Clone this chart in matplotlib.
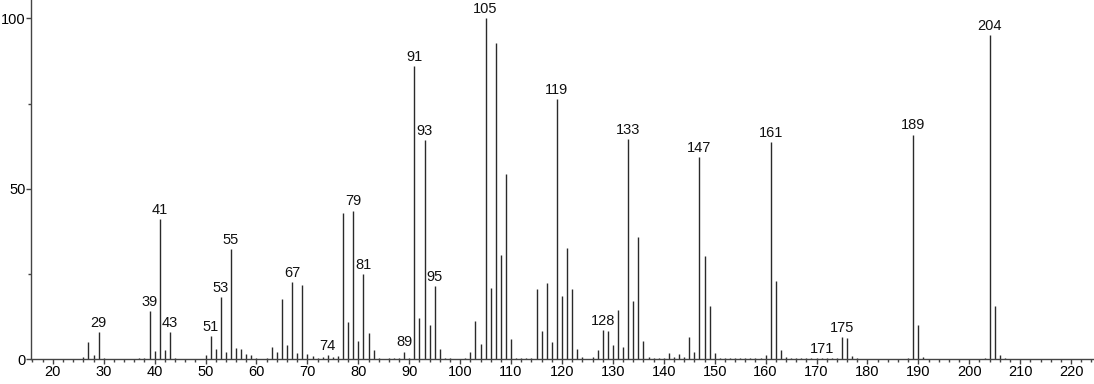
import numpy as np
import matplotlib
matplotlib.use("Agg")
import matplotlib.pyplot as plt
from matplotlib.ticker import MultipleLocator

plt.rcParams['font.family'] = ['Liberation Sans', 'DejaVu Sans']

# Spectre de masse : m/z et intensité relative
mz = [26, 27, 28, 29, 30, 37, 38, 39, 40, 41, 42, 43, 44,
      50, 51, 52, 53, 54, 55, 56, 57, 58, 59, 60, 62, 63, 64,
      65, 66, 67, 68, 69, 70, 71, 72, 73, 74, 75, 76, 77, 78,
      79, 80, 81, 82, 83, 84, 86, 87, 88, 89, 90, 91, 92, 93,
      94, 95, 96, 97, 98, 101, 102, 103, 104, 105, 106, 107, 108,
      109, 110, 111, 112, 113, 114, 115, 116, 117, 118, 119, 120,
      121, 122, 123, 124, 126, 127, 128, 129, 130, 131, 132, 133,
      134, 135, 136, 137, 138, 139, 140, 141, 142, 143, 144, 145,
      146, 147, 148, 149, 150, 151, 152, 153, 154, 155, 156, 157,
      158, 159, 160, 161, 162, 163, 164, 165, 166, 167, 168, 169,
      170, 171, 172, 173, 174, 175, 176, 177, 178, 188, 189, 190,
      191, 203, 204, 205, 206, 207]
intensite = [0.5, 4.9, 1.2, 7.8, 0.4, 0.3, 0.3, 14.2, 2.4, 41.2, 2.7, 7.8, 0.4,
             1.2, 6.8, 3.0, 18.1, 2.2, 32.4, 3.2, 3.0, 1.5, 1.3, 0.2, 0.4, 3.5, 2.2,
             17.7, 4.0, 22.7, 1.8, 21.6, 1.5, 0.8, 0.4, 0.6, 1.2, 0.6, 0.8, 42.8, 11.0,
             43.6, 5.4, 25.0, 7.7, 2.7, 0.3, 0.3, 0.3, 0.3, 2.2, 0.3, 86.0, 12.0, 64.3,
             10.1, 21.5, 3.0, 0.3, 0.3, 0.3, 2.2, 11.2, 4.3, 100.0, 21.0, 92.9, 30.6,
             54.3, 5.9, 0.4, 0.2, 0.3, 0.4, 20.5, 8.1, 22.3, 4.9, 76.4, 18.5,
             32.5, 20.5, 3.0, 0.6, 0.5, 2.7, 8.6, 8.1, 4.0, 14.3, 3.5, 64.5,
             17.1, 35.7, 5.4, 0.5, 0.3, 0.3, 0.3, 1.8, 0.6, 1.5, 0.6, 6.5,
             2.2, 59.2, 30.3, 15.6, 1.8, 0.3, 0.3, 0.3, 0.3, 0.3, 0.3, 0.3,
             0.3, 0.3, 1.2, 63.8, 22.8, 2.7, 0.5, 0.3, 0.3, 0.3, 0.3, 0.3,
             0.3, 0.3, 0.3, 0.3, 0.3, 6.5, 6.3, 0.8, 0.4, 0.4, 65.9, 10.0,
             0.6, 0.4, 95.0, 15.6, 1.2, 0.4]

# Pics annotés
pics_annotes = [29, 39, 41, 43, 51, 53, 55, 67, 74, 79, 81, 89, 91, 93, 95,
                105, 119, 128, 133, 147, 161, 171, 175, 189, 204]

fig = plt.figure(figsize=(10.94, 3.84), dpi=100)
ax = fig.add_axes([0.0283, 0.065, 0.9717, 0.935])

ax.vlines(mz, 0, intensite, colors='#2a2a2a', linewidth=1.0)

for m in pics_annotes:
    h = intensite[mz.index(m)]
    ax.annotate(str(m), (m, h), xytext=(0, 1.5), textcoords='offset points',
                ha='center', va='bottom', fontsize=10.5, color='#111111')

ax.set_xlim(15.7, 224.5)
ax.set_ylim(0, 105.4)

ax.xaxis.set_major_locator(MultipleLocator(10))
ax.xaxis.set_minor_locator(MultipleLocator(2))
ax.yaxis.set_major_locator(MultipleLocator(50))
ax.yaxis.set_minor_locator(MultipleLocator(25))

ax.spines['top'].set_visible(False)
ax.spines['right'].set_visible(False)
for s in ['left', 'bottom']:
    ax.spines[s].set_color('#444444')
    ax.spines[s].set_linewidth(1.0)

ax.tick_params(which='major', direction='out', length=3.5, width=1.0,
               color='#444444', labelsize=10.5, pad=1)
ax.tick_params(axis='y', which='major', pad=0.3)
ax.tick_params(which='minor', direction='out', length=2.5, width=1.0,
               color='#444444')

plt.savefig("out.png", dpi=100)
